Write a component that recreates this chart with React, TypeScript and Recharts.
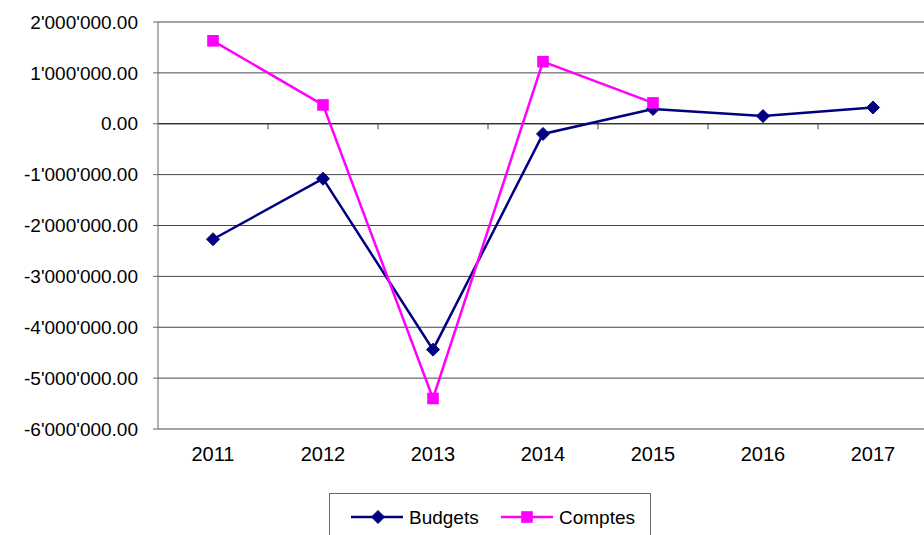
import {
  CartesianGrid,
  Line,
  LineChart,
  ReferenceLine,
  XAxis,
  YAxis,
} from "recharts";

const years = [2011, 2012, 2013, 2014, 2015, 2016, 2017];
const budgets = [-2270000, -1080000, -4440000, -200000, 290000, 150000, 320000];
const comptes = [1630000, 370000, -5400000, 1220000, 410000, null, null];
const yTicks = [2000000, 1000000, 0, -1000000, -2000000, -3000000, -4000000, -5000000, -6000000];
const yearBoundaries = [2011.5, 2012.5, 2013.5, 2014.5, 2015.5, 2016.5];

const NAVY = "#000080";
const MAGENTA = "#FF00FF";
const FONT = "'Liberation Sans', Arial, sans-serif";

const data = years.map((y, i) => ({
  year: y,
  budgets: budgets[i],
  comptes: comptes[i],
}));

const fmt = (v: number) => {
  const [int, dec] = Math.abs(v).toFixed(2).split(".");
  return (v < 0 ? "-" : "") + int.replace(/\B(?=(\d{3})+(?!\d))/g, "'") + "." + dec;
};

const Diamond = (props: any) => {
  const { cx, cy } = props;
  if (cx == null || cy == null) return null;
  const r = 6.5;
  return (
    <polygon
      points={`${cx},${cy - r} ${cx + r},${cy} ${cx},${cy + r} ${cx - r},${cy}`}
      fill={NAVY}
      stroke={NAVY}
    />
  );
};

const Square = (props: any) => {
  const { cx, cy, value } = props;
  if (cx == null || cy == null || value == null) return null;
  const r = 5.8;
  return <rect x={cx - r} y={cy - r} width={r * 2} height={r * 2} fill={MAGENTA} />;
};

export default function App() {
  return (
    <div
      style={{
        position: "relative",
        width: 924,
        height: 535,
        overflow: "hidden",
        background: "#fff",
        fontFamily: FONT,
      }}
    >
      <style>{`html, body { margin: 0; padding: 0; overflow: hidden; }`}</style>
      <LineChart
        width={928}
        height={535}
        data={data}
        margin={{ top: 22, right: 0, bottom: 0, left: 0 }}
      >
        <CartesianGrid vertical={false} stroke="#474747" strokeWidth={1} />
        <XAxis
          dataKey="year"
          type="number"
          domain={[2010.5, 2017.5]}
          ticks={years}
          axisLine={false}
          tickLine={false}
          height={106}
          tickMargin={12}
          tick={{ fill: "#000", fontSize: 20, fontFamily: FONT }}
        />
        <YAxis
          width={158}
          domain={[-6000000, 2000000]}
          ticks={yTicks}
          interval={0}
          tickFormatter={fmt}
          axisLine={{ stroke: "#666" }}
          tickLine={{ stroke: "#666" }}
          tickSize={5}
          tickMargin={15}
          tick={{ fill: "#000", fontSize: 19, fontFamily: FONT }}
        />
        <ReferenceLine y={0} stroke="#1a1a1a" strokeWidth={1} />
        {yearBoundaries.map((b) => (
          <ReferenceLine
            key={b}
            segment={[
              { x: b, y: 0 },
              { x: b, y: -110000 },
            ]}
            stroke="#444"
          />
        ))}
        <Line
          dataKey="budgets"
          stroke={NAVY}
          strokeWidth={2.5}
          dot={<Diamond />}
          activeDot={false}
          isAnimationActive={false}
        />
        <Line
          dataKey="comptes"
          stroke={MAGENTA}
          strokeWidth={2.5}
          dot={<Square />}
          activeDot={false}
          connectNulls={false}
          isAnimationActive={false}
        />
      </LineChart>
      <div
        style={{
          position: "absolute",
          left: 329,
          top: 493,
          width: 322,
          height: 60,
          border: "1px solid #666",
          boxSizing: "border-box",
          background: "#fff",
        }}
      >
        <svg width={320} height={50} style={{ position: "absolute", left: 0, top: 0 }}>
          <line x1={21} y1={23} x2={73} y2={23} stroke={NAVY} strokeWidth={2.5} />
          <Diamond cx={48} cy={23} />
          <text x={79} y={30} fontSize={19} fontFamily={FONT} fill="#000">
            Budgets
          </text>
          <line x1={171} y1={23} x2={223} y2={23} stroke={MAGENTA} strokeWidth={2.5} />
          <Square cx={197} cy={23} value={1} />
          <text x={229} y={30} fontSize={19} fontFamily={FONT} fill="#000">
            Comptes
          </text>
        </svg>
      </div>
    </div>
  );
}
